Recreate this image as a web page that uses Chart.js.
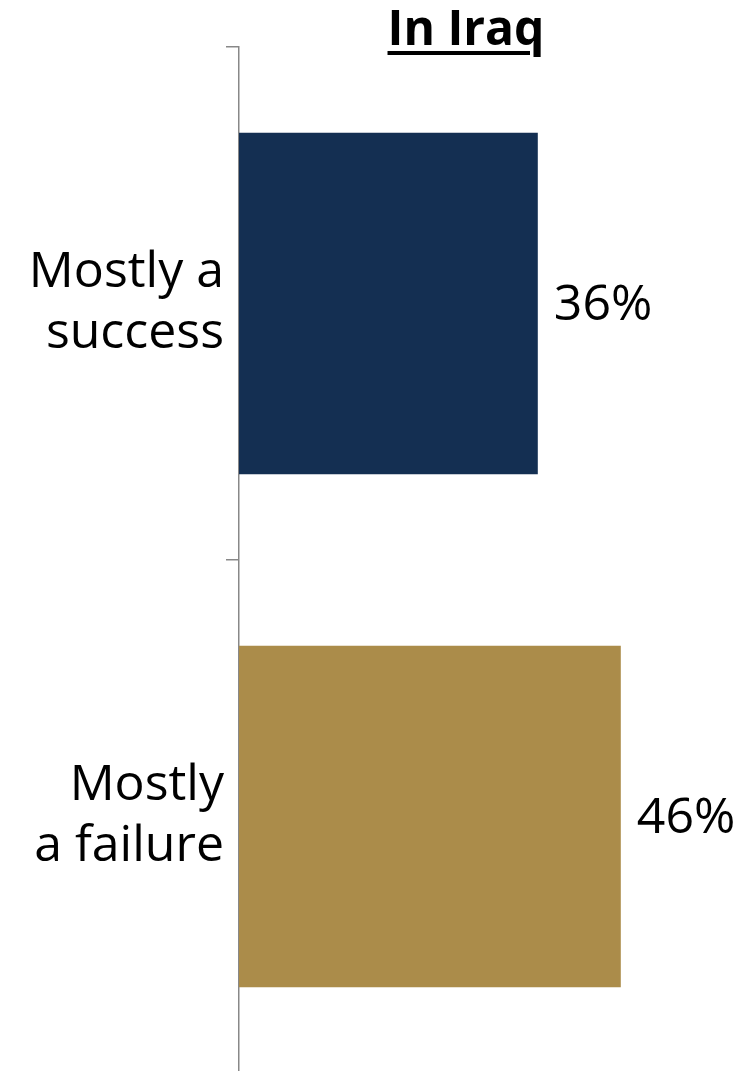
<!DOCTYPE html>
<html>
<head>
<meta charset="utf-8">
<script src="https://cdn.jsdelivr.net/npm/chart.js@4/dist/chart.umd.min.js"></script>
<style>
  html, body { margin: 0; padding: 0; background: #fff; overflow: hidden; }
  #wrap { position: relative; width: 749px; height: 1080px; }
  #title {
    position: absolute; left: 316px; width: 300px; top: -6px;
    text-align: center; font: bold 48px "Open Sans", sans-serif;
    text-decoration: underline; text-decoration-thickness: 4px;
    text-underline-offset: 6px; color: #000;
  }
</style>
</head>
<body>
<div id="wrap">
  <canvas id="chart" width="749" height="1080"></canvas>
  <div id="title">In Iraq</div>
</div>
<script>
// данные
const categories = [['Mostly a', 'success'], ['Mostly', 'a failure']];
const values = [36, 46];
const barColors = ['#142f52', '#ab8c4a'];

// подписи значений справа от столбцов
const valueLabels = {
    id: 'valueLabels',
    afterDatasetsDraw(chart) {
        const ctx = chart.ctx;
        const meta = chart.getDatasetMeta(0);
        ctx.save();
        ctx.font = '50px "Open Sans", sans-serif';
        ctx.fillStyle = '#000';
        ctx.textAlign = 'left';
        ctx.textBaseline = 'middle';
        meta.data.forEach((bar, i) => {
            ctx.fillText(values[i] + '%', bar.x + 16, bar.y + 2);
        });
        ctx.restore();
    }
};

const ctx = document.getElementById('chart').getContext('2d');
new Chart(ctx, {
    type: 'bar',
    data: {
        labels: categories,
        datasets: [{
            data: values,
            backgroundColor: barColors,
            borderWidth: 0,
            categoryPercentage: 1,
            barPercentage: 0.666
        }]
    },
    options: {
        indexAxis: 'y',
        responsive: false,
        animation: false,
        layout: { padding: { top: 47, bottom: 7, right: 12, left: 0 } },
        plugins: {
            legend: { display: false },
            tooltip: { enabled: false }
        },
        scales: {
            x: {
                display: false,
                min: 0,
                max: 60
            },
            y: {
                afterFit(scale) {
                    scale.width = 239;
                    scale.paddingTop = 0;
                    scale.paddingBottom = 0;
                },
                border: { display: true, color: '#888', width: 1.5 },
                grid: {
                    drawOnChartArea: false,
                    color: '#888',
                    lineWidth: 1.5,
                    tickLength: 13
                },
                ticks: {
                    color: '#000',
                    padding: 2,
                    font: { family: '"Open Sans", sans-serif', size: 50, lineHeight: 1.22 }
                }
            }
        }
    },
    plugins: [valueLabels]
});
</script>
</body>
</html>
